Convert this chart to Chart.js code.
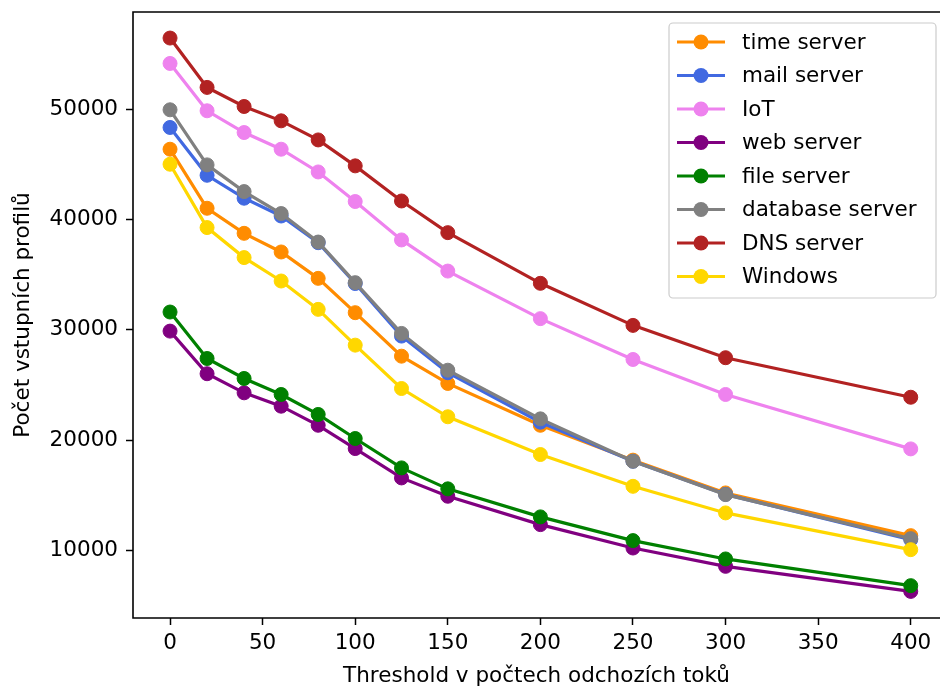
<!DOCTYPE html>
<html>
<head>
<meta charset="utf-8">
<script src="https://cdn.jsdelivr.net/npm/chart.js@4"></script>
<style>
  html, body { margin: 0; padding: 0; background: #fff; }
  #wrap { width: 940px; height: 690px; }
</style>
</head>
<body>
<div id="wrap"><canvas id="graf" width="940" height="690"></canvas></div>
<script>
// threshold (počet odchozích toků)
const thresholds = [0, 20, 40, 60, 80, 100, 125, 150, 200, 250, 300, 400];

const timeServer = [46370, 41020, 38750, 37060, 34670, 31560, 27620, 25150, 21360, 18200, 15230, 11360];
const mailServer = [48340, 44010, 41930, 40320, 37900, 34200, 29440, 26120, 21640, 18100, 15100, 11000];
const iot        = [54140, 49850, 47880, 46370, 44310, 41630, 38150, 35330, 31020, 27320, 24150, 19220];
const webServer  = [29890, 26030, 24300, 23090, 21360, 19250, 16590, 14930, 12360, 10240, 8580, 6310];
const fileServer = [31620, 27410, 25600, 24150, 22340, 20160, 17500, 15600, 13060, 10910, 9250, 6830];
const dbServer   = [49940, 44950, 42530, 40540, 37960, 34280, 29680, 26350, 21940, 18100, 15080, 11090];
const dnsServer  = [56440, 51970, 50240, 48940, 47210, 44860, 41680, 38810, 34220, 30410, 27480, 23900];
const windows    = [45010, 39270, 36550, 34430, 31860, 28620, 24690, 22130, 18710, 15830, 13420, 10090];

const nazvy = ['time server', 'mail server', 'IoT', 'web server', 'file server', 'database server', 'DNS server', 'Windows'];
const serie = [timeServer, mailServer, iot, webServer, fileServer, dbServer, dnsServer, windows];
const barvy = ['#ff8c00', '#4169e1', '#ee82ee', '#800080', '#008000', '#808080', '#b22222', '#ffd700'];

const xTicks = [0, 50, 100, 150, 200, 250, 300, 350, 400];
const yTicks = [10000, 20000, 30000, 40000, 50000];

const FONT = { family: 'DejaVu Sans', size: 21.5 };

const datasets = serie.map((s, i) => ({
  label: nazvy[i],
  data: s.map((v, j) => ({ x: thresholds[j], y: v })),
  borderColor: barvy[i],
  backgroundColor: barvy[i],
  pointBackgroundColor: barvy[i],
  pointBorderColor: barvy[i],
  pointRadius: 7,
  pointBorderWidth: 1,
  borderWidth: 3.2,
  tension: 0,
  order: serie.length - i // posledni serie navrchu (jako v matplotlibu)
}));

// ramecek grafu (vlevo, nahore, dole)
const ramecek = {
  id: 'ramecek',
  afterDatasetsDraw(chart) {
    const { ctx, chartArea: a } = chart;
    ctx.save();
    ctx.strokeStyle = '#000';
    ctx.lineWidth = 1.6;
    ctx.beginPath();
    ctx.moveTo(a.right, a.top);
    ctx.lineTo(a.left, a.top);
    ctx.lineTo(a.left, a.bottom);
    ctx.lineTo(a.right, a.bottom);
    ctx.stroke();
    ctx.restore();
  }
};

// legenda vpravo nahore
const legenda = {
  id: 'legenda',
  afterDraw(chart) {
    const ctx = chart.ctx;
    const x0 = 669, y0 = 23, w = 267, h = 275;
    ctx.save();
    ctx.beginPath();
    ctx.roundRect(x0, y0, w, h, 4);
    ctx.fillStyle = 'rgba(255,255,255,0.8)';
    ctx.fill();
    ctx.strokeStyle = '#cccccc';
    ctx.lineWidth = 1.2;
    ctx.stroke();
    chart.data.datasets.forEach((ds, i) => {
      const y = 42 + i * 33.5;
      ctx.strokeStyle = ds.borderColor;
      ctx.lineWidth = 3.2;
      ctx.beginPath();
      ctx.moveTo(677, y);
      ctx.lineTo(725, y);
      ctx.stroke();
      ctx.beginPath();
      ctx.arc(701, y, 7.5, 0, Math.PI * 2);
      ctx.fillStyle = ds.borderColor;
      ctx.fill();
      ctx.fillStyle = '#000';
      ctx.font = FONT.size + 'px "DejaVu Sans"';
      ctx.textBaseline = 'middle';
      ctx.fillText(ds.label, 742, y + 1);
    });
    ctx.restore();
  }
};

new Chart(document.getElementById('graf'), {
  type: 'line',
  data: { datasets: datasets },
  options: {
    responsive: false,
    animation: false,
    layout: { autoPadding: false, padding: { top: 12, right: 0, left: 0, bottom: 0 } },
    plugins: { legend: { display: false }, tooltip: { enabled: false } },
    scales: {
      x: {
        type: 'linear',
        min: -20,
        max: 415.8,
        afterBuildTicks: s => { s.ticks = xTicks.map(v => ({ value: v })); },
        afterFit: s => { s.height = 72; s.paddingLeft = 0; s.paddingRight = 0; },
        border: { display: false },
        grid: { drawOnChartArea: false, tickLength: 7, tickColor: '#000', tickWidth: 1.5 },
        ticks: { color: '#000', font: FONT, padding: 6, autoSkip: false, maxRotation: 0 },
        title: { display: true, text: 'Threshold v počtech odchozích toků', color: '#000', font: FONT, padding: { top: 0, bottom: 1 } }
      },
      y: {
        min: 3900,
        max: 58800,
        afterBuildTicks: s => { s.ticks = yTicks.map(v => ({ value: v })); },
        afterFit: s => { s.width = 133; s.paddingTop = 0; s.paddingBottom = 0; },
        border: { display: false },
        grid: { drawOnChartArea: false, tickLength: 7, tickColor: '#000', tickWidth: 1.5 },
        ticks: { color: '#000', font: FONT, padding: 8, callback: v => String(v) },
        title: { display: true, text: 'Počet vstupních profilů', color: '#000', font: FONT, padding: { top: 11, bottom: 0 } }
      }
    }
  },
  plugins: [ramecek, legenda]
});
</script>
</body>
</html>
